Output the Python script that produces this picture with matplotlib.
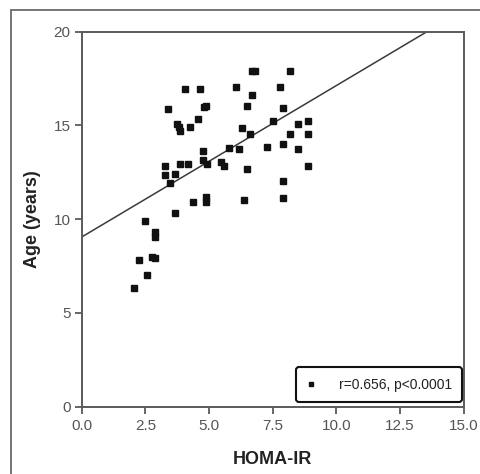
import matplotlib
matplotlib.use("Agg")
import matplotlib.pyplot as plt
from matplotlib.patches import Rectangle
import numpy as np

plt.rcParams['font.family'] = ['Liberation Sans', 'DejaVu Sans']

homa_ir = [4.06, 4.64, 6.06, 7.79, 6.69, 6.80, 8.18, 6.69, 6.49, 7.90,
           3.39, 4.80, 4.88, 4.57, 3.74, 3.82, 3.86, 4.25, 6.29, 6.61,
           7.51, 8.49, 8.88, 8.18, 8.88, 5.78, 6.18, 7.28, 7.90, 8.49,
           4.76, 4.76, 4.92, 5.47, 5.59, 3.27, 3.86, 4.17, 3.27, 3.66,
           3.47, 6.49, 8.88, 7.90, 7.90, 4.37, 4.88, 4.88, 6.37, 3.66,
           2.49, 2.88, 2.88, 2.25, 2.76, 2.88, 2.56, 2.05]
age = [16.94, 16.94, 17.05, 17.05, 17.89, 17.89, 17.89, 16.62, 16.04, 15.94,
       15.88, 15.98, 16.04, 15.34, 15.08, 14.92, 14.70, 14.92, 14.86, 14.54,
       15.24, 15.08, 15.24, 14.54, 14.54, 13.80, 13.74, 13.85, 14.01, 13.74,
       13.64, 13.16, 12.95, 13.05, 12.84, 12.84, 12.95, 12.95, 12.36, 12.41,
       11.93, 12.68, 12.84, 12.04, 11.13, 10.92, 11.18, 10.92, 11.02, 10.34,
       9.91, 9.32, 9.05, 7.82, 7.98, 7.93, 7.02, 6.33]

fit_intercept = 9.05
fit_slope = 0.808
legend_label = "r=0.656, p<0.0001"
x_ticks = [0.0, 2.5, 5.0, 7.5, 10.0, 12.5, 15.0]
y_ticks = [0, 5, 10, 15, 20]

fig = plt.figure(figsize=(4.81, 4.74), dpi=100)
W, H = 481, 474
ax = fig.add_axes([81.7 / W, 1 - 406.7 / H, (463.8 - 81.7) / W, (406.7 - 31.7) / H])

# outer frame
fig.add_artist(Rectangle((11 / W, -0.1), 1.2, 1 - 10 / H + 0.1, transform=fig.transFigure,
                         fill=False, edgecolor='#6a6a6a', linewidth=1.3))

xs = np.linspace(0, 15, 200)
ax.plot(xs, fit_intercept + fit_slope * xs, color='#3a3a3a', linewidth=1.1, zorder=2)
ax.plot(homa_ir, age, linestyle='none', marker='s', markersize=3.9,
        color='#111111', label=legend_label, zorder=3)

ax.set_xlim(0, 15)
ax.set_ylim(0, 20)
ax.set_xticks(x_ticks)
ax.set_xticklabels([f"{v:.1f}" for v in x_ticks])
ax.set_yticks(y_ticks)
for s in ax.spines.values():
    s.set_color('#5a5a5a')
    s.set_linewidth(1.4)
ax.tick_params(direction='out', length=5, width=1.3, color='#5a5a5a',
               labelcolor='#555555', labelsize=11)
ax.tick_params(axis='x', pad=4)
ax.tick_params(axis='y', pad=3)

ax.set_xlabel("HOMA-IR", fontsize=13, fontweight='bold', color='#222222', labelpad=13)
ax.set_ylabel("Age (years)", fontsize=13, fontweight='bold', color='#222222', labelpad=9)

leg = ax.legend(loc='lower right', bbox_to_anchor=(0.996, 0.012), fontsize=10,
                frameon=True, fancybox=True, handlelength=0.6, handletextpad=1.7,
                borderpad=0.75, markerscale=0.75, borderaxespad=0)
leg.get_frame().set_edgecolor('#111111')
leg.get_frame().set_linewidth(1.5)
leg.get_frame().set_alpha(1)
for t in leg.get_texts():
    t.set_color('#222222')

fig.savefig("out.png", dpi=100)
